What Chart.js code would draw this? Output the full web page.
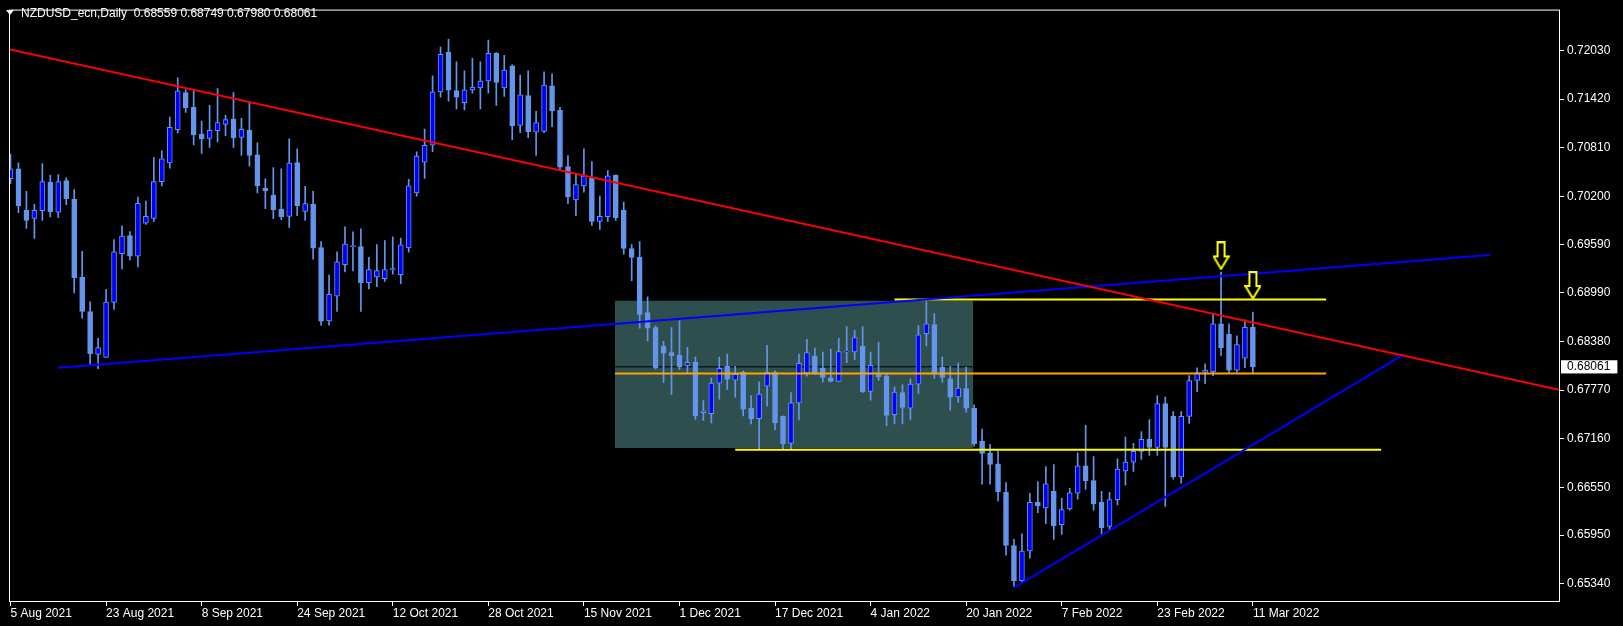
<!DOCTYPE html>
<html>
<head>
<meta charset="utf-8">
<script src="https://cdn.jsdelivr.net/npm/chart.js"></script>
<style>
  body { margin: 0; background: #000; }
  #wrap { position: relative; width: 1623px; height: 626px; }
  #tri { position: absolute; left: 6px; top: 10px; width: 0; height: 0;
         border-left: 4.5px solid transparent; border-right: 4.5px solid transparent; border-top: 5px solid #fff; }
  #title { position: absolute; left: 21px; top: 6px; color: #fff; white-space: pre;
           font: 12px/14px "Liberation Sans", Arial, sans-serif; }
</style>
</head>
<body>
<div id="wrap">
  <canvas id="chart" width="1623" height="626"></canvas>
  <div id="tri"></div>
  <div id="title"></div>
</div>
<script>
// --- DATA (daily bars, index 0 = 5 Aug 2021) ---
const symbol = 'NZDUSD_ecn,Daily';

const opens = [
  0.70422, 0.70546, 0.70025, 0.69922, 0.70021, 0.70376, 0.70001, 0.70397, 0.70166, 0.69183,
  0.68753, 0.68216, 0.68179, 0.68869, 0.69480, 0.69707, 0.69451, 0.69864, 0.69922, 0.70385,
  0.70620, 0.71036, 0.71503, 0.71317, 0.70983, 0.70929, 0.71024, 0.71103, 0.71169, 0.70941,
  0.71032, 0.70723, 0.70301, 0.70215, 0.70041, 0.69950, 0.70623, 0.70012, 0.70103, 0.69558,
  0.68637, 0.68947, 0.69343, 0.69570, 0.69570, 0.69116, 0.69190, 0.69166, 0.69277, 0.69219,
  0.69554, 0.70244, 0.70628, 0.70842, 0.71512, 0.72011, 0.71528, 0.71375, 0.71536, 0.71561,
  0.71648, 0.71999, 0.71561, 0.71838, 0.71090, 0.71466, 0.71005, 0.71016, 0.71586, 0.71281,
  0.70574, 0.70157, 0.70331, 0.70430, 0.69885, 0.69947, 0.70463, 0.70029, 0.69546, 0.69434,
  0.68741, 0.68555, 0.68319, 0.68241, 0.68208, 0.68080, 0.68121, 0.67485, 0.67473, 0.67857,
  0.68072, 0.67894, 0.67993, 0.67539, 0.67411, 0.67820, 0.67993, 0.67440, 0.67101, 0.67609,
  0.67985, 0.68195, 0.68047, 0.67923, 0.67877, 0.68245, 0.68249, 0.68319, 0.67754, 0.67964,
  0.67948, 0.67460, 0.67737, 0.67543, 0.67844, 0.68476, 0.68592, 0.68059, 0.67910, 0.67683,
  0.67787, 0.67539, 0.67130, 0.66981, 0.66845, 0.66486, 0.65817, 0.65379, 0.65750, 0.66362,
  0.66291, 0.66498, 0.66081, 0.66279, 0.66477, 0.66820, 0.66634, 0.66362, 0.66060, 0.66395,
  0.66754, 0.66866, 0.67000, 0.67150, 0.67050, 0.67600, 0.67440, 0.66680, 0.67440, 0.67890,
  0.67990, 0.68000, 0.68600, 0.68470, 0.68020, 0.68170, 0.68559
];
const highs = [
  0.70732, 0.70620, 0.70265, 0.70100, 0.70612, 0.70463, 0.70475, 0.70434, 0.70286, 0.69509,
  0.68877, 0.68419, 0.69034, 0.69658, 0.69831, 0.69757, 0.70191, 0.70141, 0.70686, 0.70773,
  0.71194, 0.71689, 0.71536, 0.71536, 0.71144, 0.71342, 0.71553, 0.71218, 0.71503, 0.71181,
  0.71388, 0.70871, 0.70421, 0.70562, 0.70545, 0.70921, 0.70797, 0.70326, 0.70264, 0.69632,
  0.69211, 0.69504, 0.69818, 0.69756, 0.69793, 0.69434, 0.69595, 0.69645, 0.69694, 0.69678,
  0.70413, 0.70760, 0.71045, 0.71714, 0.72073, 0.72172, 0.71887, 0.71776, 0.71933, 0.71887,
  0.72160, 0.72005, 0.71970, 0.71850, 0.71722, 0.71776, 0.71268, 0.71763, 0.71739, 0.71318,
  0.70711, 0.70475, 0.70797, 0.70636, 0.70203, 0.70525, 0.70470, 0.70128, 0.69595, 0.69633,
  0.68939, 0.68571, 0.68381, 0.68555, 0.68637, 0.68307, 0.68183, 0.67638, 0.67923, 0.68183,
  0.68220, 0.68067, 0.68010, 0.67700, 0.67873, 0.68332, 0.68010, 0.67445, 0.67737, 0.68220,
  0.68406, 0.68295, 0.68245, 0.68282, 0.68418, 0.68567, 0.68518, 0.68567, 0.68245, 0.68369,
  0.67968, 0.67811, 0.67836, 0.67910, 0.68580, 0.68881, 0.68728, 0.68183, 0.68067, 0.68109,
  0.68059, 0.67584, 0.67279, 0.67089, 0.67002, 0.66610, 0.65895, 0.65965, 0.66473, 0.66622,
  0.66808, 0.66833, 0.66411, 0.66535, 0.66981, 0.67328, 0.66936, 0.66498, 0.66486, 0.66907,
  0.67179, 0.67100, 0.67250, 0.67400, 0.67700, 0.67680, 0.67500, 0.67500, 0.67950, 0.68050,
  0.68100, 0.68720, 0.69250, 0.68600, 0.68450, 0.68650, 0.68749
];
const lows = [
  0.70360, 0.69996, 0.69798, 0.69674, 0.69897, 0.69943, 0.69934, 0.70096, 0.68989, 0.68671,
  0.68088, 0.68039, 0.68179, 0.68782, 0.69290, 0.69402, 0.69315, 0.69848, 0.69885, 0.70331,
  0.70554, 0.70995, 0.71255, 0.70846, 0.70739, 0.70813, 0.70884, 0.70962, 0.70813, 0.70714,
  0.70578, 0.70244, 0.70045, 0.69921, 0.69909, 0.69810, 0.69959, 0.69897, 0.69413, 0.68583,
  0.68583, 0.68757, 0.69252, 0.69265, 0.68757, 0.69038, 0.69067, 0.69133, 0.69223, 0.69104,
  0.69500, 0.70202, 0.70425, 0.70760, 0.71445, 0.71396, 0.71297, 0.71284, 0.71495, 0.71297,
  0.71495, 0.71342, 0.71454, 0.70913, 0.70999, 0.70938, 0.70715, 0.70999, 0.71074, 0.70537,
  0.70108, 0.69959, 0.70252, 0.69835, 0.69785, 0.69885, 0.69897, 0.69476, 0.69141, 0.68546,
  0.68385, 0.68034, 0.67865, 0.67716, 0.68026, 0.67985, 0.67402, 0.67390, 0.67357, 0.67654,
  0.67778, 0.67679, 0.67444, 0.67345, 0.67035, 0.67568, 0.67270, 0.67035, 0.67035, 0.67394,
  0.67943, 0.67964, 0.67873, 0.67873, 0.67877, 0.68113, 0.68150, 0.67737, 0.67642, 0.67890,
  0.67320, 0.67345, 0.67345, 0.67394, 0.67729, 0.68323, 0.67915, 0.67865, 0.67518, 0.67613,
  0.67493, 0.67064, 0.66589, 0.66589, 0.66378, 0.65697, 0.65304, 0.65354, 0.65660, 0.66230,
  0.66093, 0.65895, 0.65957, 0.66263, 0.66399, 0.66523, 0.66263, 0.65965, 0.66015, 0.66329,
  0.66576, 0.66750, 0.66900, 0.66950, 0.66950, 0.66310, 0.66650, 0.66600, 0.67350, 0.67750,
  0.67850, 0.67950, 0.68200, 0.67980, 0.67990, 0.68050, 0.67980
];
const closes = [
  0.70546, 0.70083, 0.69897, 0.70025, 0.70385, 0.70009, 0.70385, 0.70170, 0.69179, 0.68757,
  0.68225, 0.68303, 0.68873, 0.69505, 0.69703, 0.69451, 0.70112, 0.69951, 0.70385, 0.70670,
  0.71066, 0.71524, 0.71309, 0.70975, 0.70925, 0.71028, 0.71127, 0.71164, 0.70937, 0.71041,
  0.70714, 0.70330, 0.70268, 0.70033, 0.69946, 0.70619, 0.70082, 0.70111, 0.69550, 0.68633,
  0.68971, 0.69380, 0.69603, 0.69579, 0.69116, 0.69281, 0.69269, 0.69281, 0.69294, 0.69591,
  0.70334, 0.70706, 0.70842, 0.71512, 0.71982, 0.71532, 0.71445, 0.71536, 0.71573, 0.71648,
  0.71995, 0.71631, 0.71784, 0.71086, 0.71474, 0.71012, 0.71125, 0.71598, 0.71272, 0.70566,
  0.70194, 0.70347, 0.70455, 0.69885, 0.69951, 0.70459, 0.69934, 0.69546, 0.69434, 0.68720,
  0.68546, 0.68047, 0.68233, 0.68200, 0.68063, 0.68117, 0.67444, 0.67510, 0.67857, 0.68043,
  0.67902, 0.67968, 0.67530, 0.67407, 0.67720, 0.67993, 0.67357, 0.67097, 0.67609, 0.68105,
  0.68241, 0.67985, 0.67927, 0.67877, 0.68253, 0.68249, 0.68427, 0.67749, 0.68080, 0.67939,
  0.67452, 0.67745, 0.67551, 0.67844, 0.68464, 0.68600, 0.67985, 0.67927, 0.67679, 0.67795,
  0.67543, 0.67093, 0.66973, 0.66837, 0.66490, 0.65821, 0.65375, 0.65750, 0.66362, 0.66316,
  0.66593, 0.66064, 0.66271, 0.66481, 0.66820, 0.66634, 0.66341, 0.66044, 0.66395, 0.66779,
  0.66866, 0.67000, 0.67150, 0.67050, 0.67600, 0.67050, 0.66680, 0.67440, 0.67890, 0.67990,
  0.68020, 0.68600, 0.68300, 0.68020, 0.68340, 0.68556, 0.68061
];

const dateLabels = ['5 Aug 2021', '23 Aug 2021', '8 Sep 2021', '24 Sep 2021', '12 Oct 2021', '28 Oct 2021',
  '15 Nov 2021', '1 Dec 2021', '17 Dec 2021', '4 Jan 2022', '20 Jan 2022', '7 Feb 2022', '23 Feb 2022', '11 Mar 2022'];
const dateLabelBars = [0, 12, 24, 36, 48, 60, 72, 84, 96, 108, 120, 132, 144, 156];

const priceTicks = [0.72030, 0.71420, 0.70810, 0.70200, 0.69590, 0.68990, 0.68380, 0.67770, 0.67160, 0.66550, 0.65950, 0.65340];
const bidPrice = 0.68061;

// objects drawn on the chart: [bar, price]
const redTrend = [[-1, 0.72065], [195, 0.67762]];
const blueTrendTop = [[6, 0.68050], [185.8, 0.69463]];
const blueTrendLow = [[126, 0.65290], [174.8, 0.68208]];
const yellowTop = [[111, 0.68905], [165.2, 0.68905]];
const orangeMid = [[75.9, 0.67976], [165.2, 0.67976]];
const yellowLow = [[91, 0.67022], [172.1, 0.67022]];
const rangeBox = { from: 75.9, to: 120.9, top: 0.68889, bottom: 0.67043 };
const arrowMarks = [[152, 0.69453], [156, 0.69081]];

// --- TITLE ---
const last = opens.length - 1;
document.getElementById('title').textContent =
  symbol + '  ' + [opens[last], highs[last], lows[last], closes[last]].map(v => v.toFixed(5)).join(' ');

// --- HELPERS ---
const pts = (arr) => arr.map(p => ({ x: p[0], y: p[1] }));
const BULL = '#0000FF', BEAR = '#6495ED', WICK = '#6495ED';

// hollow down arrow used as point style
const arrowImg = document.createElement('canvas');
arrowImg.width = 17; arrowImg.height = 29;
const actx = arrowImg.getContext('2d');
actx.strokeStyle = '#FFFF00';
actx.lineWidth = 2;
actx.beginPath();
actx.moveTo(5, 1); actx.lineTo(12, 1); actx.lineTo(12, 15); actx.lineTo(16, 15);
actx.lineTo(8.5, 27.5); actx.lineTo(1, 15); actx.lineTo(5, 15); actx.closePath();
actx.stroke();

const frame = {
  id: 'frame',
  afterDraw(chart) {
    const { ctx, chartArea: a } = chart;
    ctx.save();
    ctx.strokeStyle = '#ffffff';
    ctx.lineWidth = 1;
    ctx.strokeRect(a.left + 0.5, a.top + 0.5, a.right - a.left - 1, a.bottom - a.top - 1);
    ctx.restore();
  }
};

const lineSet = (label, data, color, width, order) => ({
  type: 'line', label, data: pts(data), borderColor: color, borderWidth: width,
  pointRadius: 0, fill: false, tension: 0, order
});

const tickFont = { family: '"Liberation Sans", Arial, sans-serif', size: 12, lineHeight: 1.1 };

new Chart(document.getElementById('chart'), {
  type: 'bar',
  data: {
    datasets: [
      {
        type: 'line', label: 'arrows', data: pts(arrowMarks), showLine: false,
        pointStyle: arrowImg, pointRadius: 8, order: 0
      },
      lineSet('red trend', redTrend, '#FF0000', 2, 1),
      lineSet('blue trend top', blueTrendTop, '#0000FF', 2, 1),
      lineSet('blue trend low', blueTrendLow, '#0000FF', 2, 1),
      lineSet('yellow top', yellowTop, '#FFFF00', 2, 1),
      lineSet('orange mid', orangeMid, '#FFA500', 2, 1),
      lineSet('yellow low', yellowLow, '#FFFF00', 2, 1),
      {
        label: 'body', grouped: false, order: 2,
        data: opens.map((o, i) => ({ x: i, y: [Math.min(o, closes[i]), Math.max(o, closes[i])] })),
        barThickness: 5, minBarLength: 1, borderSkipped: false, borderWidth: 1, borderColor: WICK,
        backgroundColor: (c) => closes[c.dataIndex] > opens[c.dataIndex] ? BULL : BEAR
      },
      {
        label: 'wick', grouped: false, order: 3,
        data: highs.map((h, i) => ({ x: i, y: [lows[i], h] })),
        barThickness: 1, borderWidth: 0, backgroundColor: WICK
      },
      {
        type: 'line', label: 'bid', order: 4,
        data: [{ x: -1, y: bidPrice }, { x: 195, y: bidPrice }],
        borderColor: '#000000', borderWidth: 1, pointRadius: 0, fill: false
      },
      {
        type: 'line', label: 'range', order: 5,
        data: [{ x: rangeBox.from, y: rangeBox.top }, { x: rangeBox.to, y: rangeBox.top }],
        borderColor: 'rgba(0,0,0,0)', borderWidth: 0, pointRadius: 0,
        fill: { value: rangeBox.bottom }, backgroundColor: '#2F4F4F'
      }
    ]
  },
  options: {
    responsive: false,
    animation: false,
    events: [],
    layout: { padding: { left: 2, top: 2, right: 0, bottom: 0 } },
    plugins: { legend: { display: false }, tooltip: { enabled: false } },
    scales: {
      x: {
        type: 'linear', offset: false,
        min: -0.1875, max: 194.5625,
        grid: { display: true, offset: false, drawOnChartArea: false, drawTicks: true, tickLength: 4, tickColor: '#ffffff' },
        border: { display: false },
        afterBuildTicks: (s) => { s.ticks = dateLabelBars.map(v => ({ value: v })); },
        afterFit: (s) => { s.height = 24; },
        ticks: {
          autoSkip: false, maxRotation: 0, align: 'start', padding: 1,
          color: '#ffffff', font: tickFont,
          callback: (v, i) => dateLabels[i]
        }
      },
      y: {
        type: 'linear', position: 'right', beginAtZero: false,
        min: 0.65110, max: 0.72544,
        grid: {
          display: true, drawOnChartArea: false, drawTicks: true, tickLength: 4,
          tickColor: (c) => (c.tick && c.tick.value === bidPrice) ? 'rgba(0,0,0,0)' : '#ffffff'
        },
        border: { display: false },
        afterBuildTicks: (s) => { s.ticks = priceTicks.concat([bidPrice]).map(v => ({ value: v })); },
        afterFit: (s) => { s.width = 63; },
        ticks: {
          autoSkip: false, padding: 3, font: tickFont,
          color: (c) => c.tick.value === bidPrice ? '#000000' : '#ffffff',
          showLabelBackdrop: (c) => c.tick.value === bidPrice,
          backdropColor: '#ffffff',
          backdropPadding: { left: 6, right: 7, top: 0, bottom: 0 },
          callback: (v) => v.toFixed(5)
        }
      }
    }
  },
  plugins: [frame]
});
</script>
</body>
</html>
